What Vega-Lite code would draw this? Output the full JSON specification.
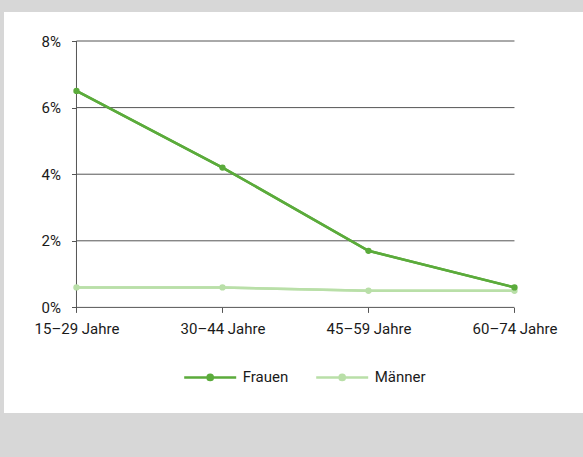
{
  "$schema": "https://vega.github.io/schema/vega-lite/v6.json",
  "width": 579,
  "height": 401,
  "autosize": {"type": "none"},
  "padding": {"left": 4, "top": 12, "right": 0, "bottom": 44},
  "background": "#d7d7d7",
  "config": {
    "view": {"fill": "white", "stroke": null},
    "font": "Roboto",
    "axis": {"labelFont": "Roboto", "labelFontSize": 15, "labelColor": "#1a1a1a", "tickColor": "#555555", "tickWidth": 1},
    "legend": {"labelFont": "Roboto", "labelFontSize": 15, "labelColor": "#1a1a1a"}
  },
  "layer": [
    {
      "data": {"name": "werte"},
      "mark": {"type": "line", "strokeWidth": 2.5},
      "encoding": {
        "x": {
          "field": "Alter", "type": "ordinal",
          "scale": {"type": "point", "domain": ["15–29 Jahre", "30–44 Jahre", "45–59 Jahre", "60–74 Jahre"], "padding": 0.4829, "align": 0.514},
          "axis": {"orient": "bottom", "offset": -105.6, "domain": false, "grid": false, "tickSize": 5, "labelPadding": 9, "labelAngle": 0, "title": null}
        },
        "y": {
          "field": "Anteil", "type": "quantitative",
          "scale": {"domain": [-3.171, 8.871], "nice": false, "zero": false},
          "axis": {"orient": "left", "offset": -72.5, "domain": false, "grid": false, "values": [0, 2, 4, 6, 8], "tickSize": 5, "labelPadding": 11, "labelExpr": "datum.value + '%'", "title": null}
        },
        "color": {
          "field": "Geschlecht", "type": "nominal",
          "scale": {"domain": ["Frauen", "Männer"], "range": ["#5bab3b", "#b9dfa8"]},
          "legend": {
            "orient": "none", "legendX": 178.7, "legendY": 337.7, "direction": "horizontal", "title": null,
            "symbolType": "M-1,0H1M0.1,0A0.1,0.1,0,1,1,-0.1,0A0.1,0.1,0,1,1,0.1,0Z",
            "symbolSize": 2704, "symbolStrokeWidth": 2.5, "labelOffset": 5, "columnPadding": 22, "padding": 0,
            "encode": {"symbols": {"update": {"fill": {"scale": "color", "field": "value"}}}}
          }
        },
        "order": {"field": "Reihenfolge"}
      }
    },
    {
      "data": {"values": [{"Stufe": 0}, {"Stufe": 2}, {"Stufe": 4}, {"Stufe": 6}, {"Stufe": 8}]},
      "mark": {"type": "rule", "color": "#555555", "strokeWidth": 1},
      "encoding": {
        "y": {"field": "Stufe", "type": "quantitative"},
        "x": {"datum": "15–29 Jahre", "type": "ordinal"},
        "x2": {"datum": "60–74 Jahre"}
      }
    },
    {
      "data": {"values": [{"Stufe": 0}]},
      "mark": {"type": "rule", "color": "#555555", "strokeWidth": 1},
      "encoding": {
        "x": {"datum": "15–29 Jahre", "type": "ordinal"},
        "y": {"datum": 0, "type": "quantitative"},
        "y2": {"datum": 8}
      }
    },
    {
      "data": {"name": "werte"},
      "mark": {"type": "line", "strokeWidth": 2.5},
      "encoding": {
        "x": {"field": "Alter", "type": "ordinal"},
        "y": {"field": "Anteil", "type": "quantitative"},
        "color": {"field": "Geschlecht", "type": "nominal"},
        "order": {"field": "Reihenfolge"}
      }
    },
    {
      "data": {"name": "werte"},
      "mark": {"type": "circle", "size": 40, "opacity": 1},
      "encoding": {
        "x": {"field": "Alter", "type": "ordinal"},
        "y": {"field": "Anteil", "type": "quantitative"},
        "color": {"field": "Geschlecht", "type": "nominal"}
      }
    }
  ],
  "datasets": {
    "werte": [
      {"Alter": "15–29 Jahre", "Geschlecht": "Männer", "Anteil": 0.6, "Reihenfolge": 1},
      {"Alter": "30–44 Jahre", "Geschlecht": "Männer", "Anteil": 0.6, "Reihenfolge": 2},
      {"Alter": "45–59 Jahre", "Geschlecht": "Männer", "Anteil": 0.5, "Reihenfolge": 3},
      {"Alter": "60–74 Jahre", "Geschlecht": "Männer", "Anteil": 0.5, "Reihenfolge": 4},
      {"Alter": "15–29 Jahre", "Geschlecht": "Frauen", "Anteil": 6.5, "Reihenfolge": 1},
      {"Alter": "30–44 Jahre", "Geschlecht": "Frauen", "Anteil": 4.2, "Reihenfolge": 2},
      {"Alter": "45–59 Jahre", "Geschlecht": "Frauen", "Anteil": 1.7, "Reihenfolge": 3},
      {"Alter": "60–74 Jahre", "Geschlecht": "Frauen", "Anteil": 0.6, "Reihenfolge": 4}
    ]
  }
}
